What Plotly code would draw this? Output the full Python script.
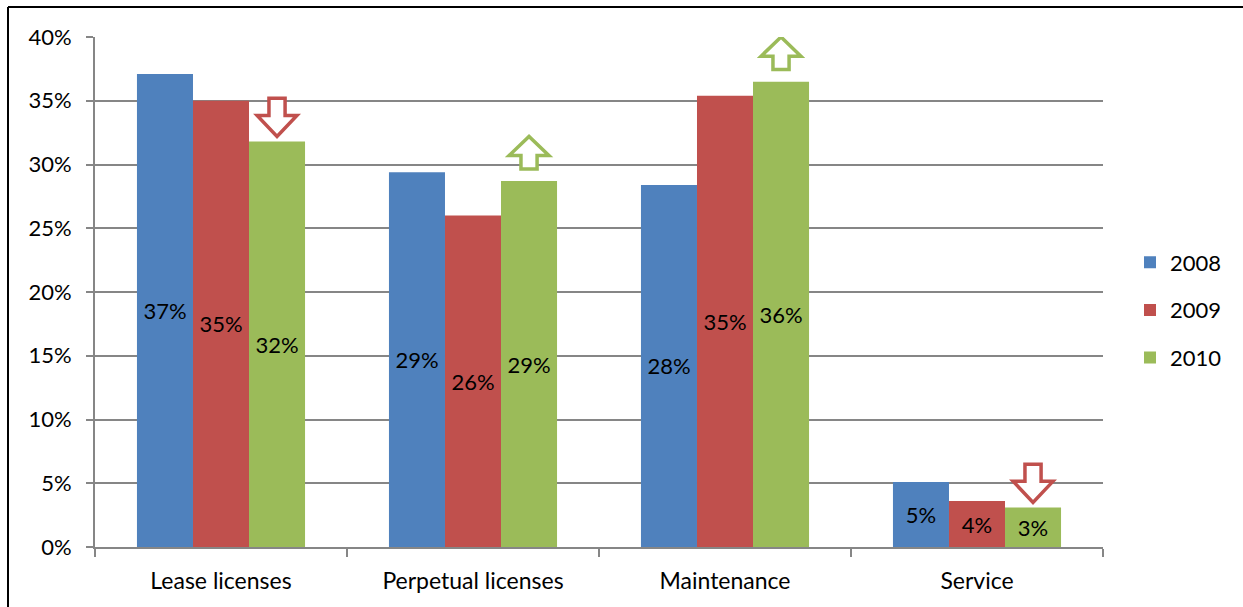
import plotly.graph_objects as go

# Revenue share by licence type
categories = ["Lease licenses", "Perpetual licenses", "Maintenance", "Service"]
years = ["2008", "2009", "2010"]
share_2008 = [37.1, 29.4, 28.4, 5.1]
share_2009 = [35.0, 26.0, 35.4, 3.6]
share_2010 = [31.8, 28.7, 36.5, 3.1]
colors = ["#4F81BD", "#C0504D", "#9BBB59"]

W, H = 1243, 607
ML, MR, MT, MB = 95, 140, 37, 60
FONT = "Lato"

fig = go.Figure()
for name, vals, col in zip(years, [share_2008, share_2009, share_2010], colors):
    fig.add_trace(go.Bar(
        name=name, x=categories, y=vals, marker_color=col, marker_line_width=0,
        text=[f"{v:.0f}%" for v in vals], textposition="inside",
        insidetextanchor="middle", textangle=0,
        insidetextfont=dict(family=FONT, size=22, color="black"),
        legendgroup=name,
    ))

# Trend arrows above the 2010 bars (2010 vs 2009)
bar_w = (1 - 0.333) / 3
arr_w = 0.158     # head width, category units
shaft_w = 0.064
shapes = []
for i, (prev, cur) in enumerate(zip(share_2009, share_2010)):
    cx = i + bar_w
    if cur < prev:
        tip = cur + 0.4
        top = tip + 3.0
        base = tip + 1.65
        pts = [(cx - shaft_w / 2, top), (cx + shaft_w / 2, top), (cx + shaft_w / 2, base),
               (cx + arr_w / 2, base), (cx, tip), (cx - arr_w / 2, base), (cx - shaft_w / 2, base)]
        col = colors[1]
    else:
        bot = cur + 0.95
        tip = bot + 2.55
        base = tip - 1.5
        pts = [(cx - shaft_w / 2, bot), (cx + shaft_w / 2, bot), (cx + shaft_w / 2, base),
               (cx + arr_w / 2, base), (cx, tip), (cx - arr_w / 2, base), (cx - shaft_w / 2, base)]
        col = colors[2]
    path = "M " + " L ".join(f"{x:.4f},{y:.4f}" for x, y in pts) + " Z"
    shapes.append(dict(type="path", xref="x", yref="y", path=path,
                       fillcolor="white", line=dict(color=col, width=3.5), layer="above"))

# Outer frame: top and left edges
pw = W - ML - MR
ph = H - MT - MB
def px_x(p):
    return (p - ML) / pw
def px_y(p):
    return (H - MB - p) / ph
shapes.append(dict(type="line", xref="paper", yref="paper",
                   x0=px_x(8), x1=px_x(W + 5), y0=px_y(7), y1=px_y(7),
                   line=dict(color="black", width=2)))
shapes.append(dict(type="line", xref="paper", yref="paper",
                   x0=px_x(8), x1=px_x(8), y0=px_y(7), y1=px_y(H + 5),
                   line=dict(color="black", width=2)))

fig.update_layout(
    width=W, height=H,
    margin=dict(l=ML, r=MR, t=MT, b=MB, pad=0),
    paper_bgcolor="white", plot_bgcolor="white",
    barmode="group", bargap=0.333, bargroupgap=0,
    font=dict(family=FONT, size=22, color="black"),
    showlegend=True,
    legend=dict(x=px_x(1130), xanchor="left", y=px_y(310), yanchor="middle",
                traceorder="grouped", tracegroupgap=16,
                font=dict(family=FONT, size=22, color="black"),
                bgcolor="rgba(0,0,0,0)"),
    shapes=shapes,
    xaxis=dict(showline=True, linecolor="#868686", linewidth=2,
               tickson="boundaries", ticks="outside", ticklen=8,
               tickcolor="#868686", tickwidth=2, showgrid=False,
               ticklabelstandoff=12,
               tickfont=dict(family=FONT, size=23), range=[-0.5, 3.5]),
    yaxis=dict(range=[0, 40], dtick=5, ticksuffix="%", showgrid=True,
               gridcolor="#868686", gridwidth=1.5, showline=True,
               linecolor="#868686", linewidth=2, ticks="outside", ticklen=7,
               tickcolor="#868686", tickwidth=2, zeroline=False,
               ticklabelstandoff=10,
               tickfont=dict(family=FONT, size=22)),
)

fig.write_html("out.html")
